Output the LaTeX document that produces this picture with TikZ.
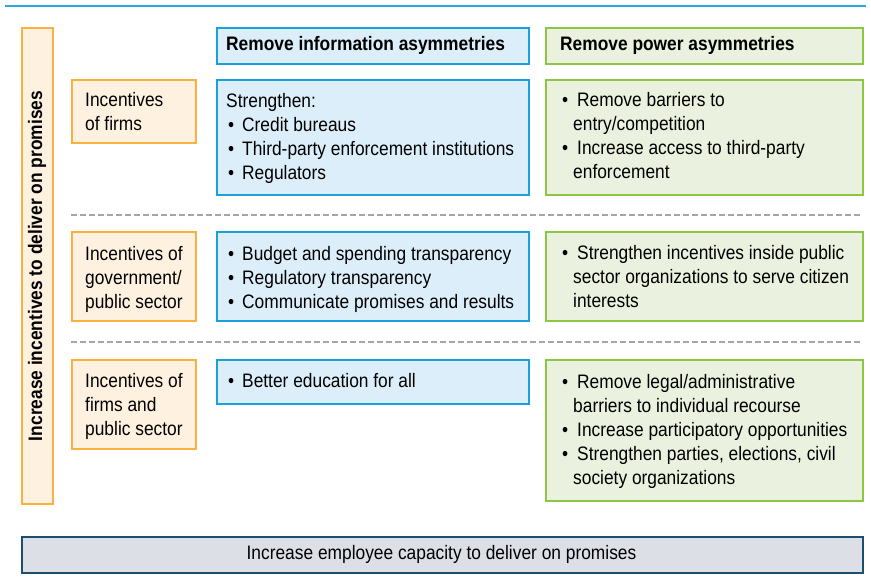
\documentclass[tikz,border=0pt]{standalone}
\usepackage{fontspec}
\setmainfont[FakeStretch=0.89]{Liberation Sans}
\definecolor{orgB}{HTML}{FBB040}
\definecolor{orgF}{HTML}{FEF1E0}
\definecolor{bluB}{HTML}{1BA0DB}
\definecolor{bluF}{HTML}{DCEEF9}
\definecolor{grnB}{HTML}{8DC641}
\definecolor{grnF}{HTML}{EAF2DF}
\definecolor{capB}{HTML}{1B4F6B}
\definecolor{capF}{HTML}{DCDFE6}
\definecolor{topL}{HTML}{29A8E0}
\definecolor{dashC}{HTML}{A6A6A6}
\newcommand{\bb}{\makebox[16pt][l]{\hspace{2pt}•}}
\newcommand{\gb}{\makebox[17pt][l]{\hspace{2pt}•}}
\newcommand{\gc}{\hspace*{13pt}}
\begin{document}
\begin{tikzpicture}[x=1pt,y=-1pt,
  box/.style={draw, line width=2.4pt, inner sep=0pt, anchor=north west},
  obox/.style={box, draw=orgB, fill=orgF},
  bbox/.style={box, draw=bluB, fill=bluF},
  gbox/.style={box, draw=grnB, fill=grnF},
  cbox/.style={box, draw=capB, fill=capF},
  txt/.style={anchor=base west, inner sep=0pt, align=left, font=\fontsize{19.5}{24}\selectfont},
  hdr/.style={txt, font=\bfseries\fontsize{19.5}{24}\selectfont},
  sep/.style={draw=dashC, line width=2pt, dash pattern=on 6pt off 3pt}]
\useasboundingbox (0,0) rectangle (871,582);
\fill[white] (0,0) rectangle (871,582);
% top rule
\coordinate (tl) at (5,6);
\coordinate (tr) at (866,6);
\draw[topL, line width=1.6pt] (tl) -- (tr);
% left bar
\node[obox, minimum width=31pt, minimum height=476pt] (bar) at (21,27) {};
\node[rotate=90, inner sep=0pt, font=\bfseries\fontsize{19.5}{24}\selectfont] (bartxt) at (37,266) {Increase incentives to deliver on promises};
% headers
\node[bbox, minimum width=312pt, minimum height=36pt] (hb) at (216,27) {};
\node[hdr] (hbt) at (226,50) {Remove information asymmetries};
\node[gbox, minimum width=317pt, minimum height=36pt] (hg) at (545,27) {};
\node[hdr] (hgt) at (560,50) {Remove power asymmetries};
% row 1 (anchor = baseline of the last line)
\node[obox, minimum width=124pt, minimum height=63pt] (o1) at (71,79) {};
\node[txt] (o1t) at (85,130) {Incentives\\of firms};
\node[bbox, minimum width=312pt, minimum height=115pt] (b1) at (216,79) {};
\node[txt] (b1t) at (226,179) {Strengthen:\\\bb Credit bureaus\\\bb Third-party enforcement institutions\\\bb Regulators};
\node[gbox, minimum width=317pt, minimum height=115pt] (g1) at (545,79) {};
\node[txt] (g1t) at (560,178) {\gb Remove barriers to\\\gc entry/competition\\\gb Increase access to third-party\\\gc enforcement};
% separator 1
\coordinate (s1a) at (71,215);
\coordinate (s1b) at (862,215);
\draw[sep] (s1a) -- (s1b);
% row 2
\node[obox, minimum width=124pt, minimum height=89pt] (o2) at (71,231) {};
\node[txt] (o2t) at (85,308) {Incentives of\\government/\\public sector};
\node[bbox, minimum width=312pt, minimum height=89pt] (b2) at (216,231) {};
\node[txt] (b2t) at (226,308) {\bb Budget and spending transparency\\\bb Regulatory transparency\\\bb Communicate promises and results};
\node[gbox, minimum width=317pt, minimum height=89pt] (g2) at (545,231) {};
\node[txt] (g2t) at (560,307) {\gb Strengthen incentives inside public\\\gc sector organizations to serve citizen\\\gc interests};
% separator 2
\coordinate (s2a) at (71,342);
\coordinate (s2b) at (862,342);
\draw[sep] (s2a) -- (s2b);
% row 3
\node[obox, minimum width=124pt, minimum height=89pt] (o3) at (71,359) {};
\node[txt] (o3t) at (85,435) {Incentives of\\firms and\\public sector};
\node[bbox, minimum width=312pt, minimum height=44pt] (b3) at (216,359) {};
\node[txt] (b3t) at (226,387) {\bb Better education for all};
\node[gbox, minimum width=317pt, minimum height=141pt] (g3) at (545,359) {};
\node[txt] (g3t) at (560,484) {\gb Remove legal/administrative\\\gc barriers to individual recourse\\\gb Increase participatory opportunities\\\gb Strengthen parties, elections, civil\\\gc society organizations};
% bottom bar
\node[cbox, minimum width=841pt, minimum height=36pt] (cap) at (21,536) {};
\node[anchor=base, inner sep=0pt, font=\fontsize{19.5}{24}\selectfont] (capt) at (441.5,559) {Increase employee capacity to deliver on promises};
\end{tikzpicture}
\end{document}
